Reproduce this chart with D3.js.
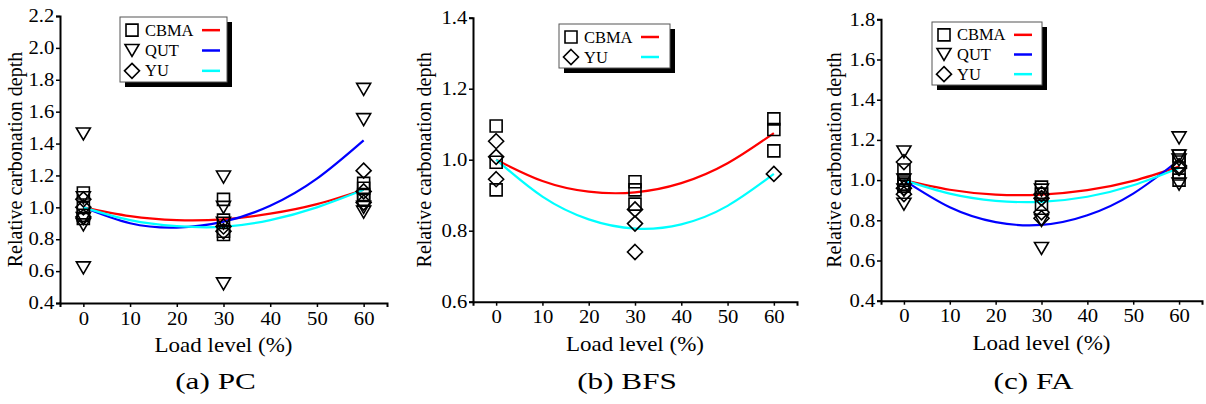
<!DOCTYPE html>
<html>
<head>
<meta charset="utf-8">
<script src="https://cdn.jsdelivr.net/npm/d3@7"></script>
<style>
  body { margin: 0; background: #fff; }
  text { font-family: "Liberation Serif", "Times New Roman", serif; fill: #000; }
</style>
</head>
<body>
<svg id="chart" width="1206" height="404"></svg>
<script>
// x positions of fitted curve samples
const curveX = [0, 10, 20, 30, 40, 50, 60];
const xTicks = [0, 10, 20, 30, 40, 50, 60];

// (a) PC
const pcCBMA = [[0,1.09],[0,1.0],[0,0.95],[0,0.93],[30,1.05],[30,0.92],[30,0.85],[30,0.83],[60,1.15],[60,1.12],[60,1.08],[60,1.05]];
const pcQUT = [[0,1.46],[0,1.06],[0,0.93],[0,0.89],[0,0.62],[30,1.19],[30,1.0],[30,0.9],[30,0.52],[60,1.74],[60,1.55],[60,1.0],[60,0.97]];
const pcYU = [[0,1.05],[0,1.0],[0,0.94],[30,0.88],[30,0.85],[60,1.23],[60,1.1],[60,1.03]];
const pcFitCBMA = [1.0, 0.945, 0.92, 0.925, 0.96, 1.02, 1.11];
const pcFitQUT = [1.0, 0.9, 0.873, 0.91, 1.01, 1.18, 1.42];
const pcFitYU = [1.0, 0.92, 0.882, 0.878, 0.92, 1.0, 1.11];
const pcYTicks = [0.4, 0.6, 0.8, 1.0, 1.2, 1.4, 1.6, 1.8, 2.0, 2.2];

// (b) BFS
const bfsCBMA = [[0,1.095],[0,0.993],[0,0.915],[30,0.938],[30,0.915],[30,0.875],[60,1.115],[60,1.085],[60,1.025]];
const bfsYU = [[0,1.052],[0,1.008],[0,0.945],[30,0.86],[30,0.82],[30,0.74],[60,0.96]];
const bfsFitCBMA = [1.0, 0.94, 0.91, 0.908, 0.934, 0.99, 1.075];
const bfsFitYU = [1.0, 0.896, 0.832, 0.806, 0.818, 0.87, 0.96];
const bfsYTicks = [0.6, 0.8, 1.0, 1.2, 1.4];

// (c) FA
const faCBMA = [[0,1.05],[0,1.0],[0,0.98],[0,0.97],[30,0.965],[30,0.93],[30,0.88],[60,1.12],[60,1.09],[60,1.03],[60,1.0]];
const faQUT = [[0,1.14],[0,1.0],[0,0.95],[0,0.88],[30,0.95],[30,0.8],[30,0.66],[60,1.21],[60,1.12],[60,1.1],[60,0.98]];
const faYU = [[0,1.09],[0,0.96],[0,0.93],[30,0.93],[30,0.91],[30,0.84],[30,0.81],[60,1.07],[60,1.06]];
const faFitCBMA = [1.0, 0.952, 0.928, 0.928, 0.95, 0.996, 1.067];
const faFitQUT = [1.0, 0.865, 0.791, 0.777, 0.825, 0.933, 1.10];
const faFitYU = [1.0, 0.933, 0.897, 0.892, 0.917, 0.974, 1.06];
const faYTicks = [0.4, 0.6, 0.8, 1.0, 1.2, 1.4, 1.6, 1.8];

const colors = { CBMA: "#ff0000", QUT: "#0000ff", YU: "#00ffff" };

// text in the source figure is a little wider than the font
const stretch = 1.15;

// marker shapes (hollow)
function markerPath(kind) {
  if (kind === "CBMA") return "M-6,-6H6V6H-6Z";
  if (kind === "QUT") return "M-7,-6H7L0,6Z";
  return "M0,-7.5L7.5,0L0,7.5L-7.5,0Z";
}

const panels = [
  { caption: "(a) PC", left: 60, right: 387, top: 16, bottom: 303, yDomain: [0.4, 2.2], yTicks: pcYTicks, titleOff: 38,
    series: [["CBMA", pcCBMA, pcFitCBMA], ["QUT", pcQUT, pcFitQUT], ["YU", pcYU, pcFitYU]],
    legend: { x: 120, y: 17, w: 107, h: 65 } },
  { caption: "(b) BFS", left: 473, right: 797, top: 17.7, bottom: 301.7, yDomain: [0.6, 1.4], yTicks: bfsYTicks, titleOff: 42,
    series: [["CBMA", bfsCBMA, bfsFitCBMA], ["YU", bfsYU, bfsFitYU]],
    legend: { x: 559, y: 24, w: 111, h: 44 } },
  { caption: "(c) FA", left: 881, right: 1202, top: 19.3, bottom: 300.7, yDomain: [0.4, 1.8], yTicks: faYTicks, titleOff: 40,
    series: [["CBMA", faCBMA, faFitCBMA], ["QUT", faQUT, faFitQUT], ["YU", faYU, faFitYU]],
    legend: { x: 932, y: 22, w: 110, h: 63 } }
];

const svg = d3.select("#chart");

panels.forEach(p => {
  const x = d3.scaleLinear().domain([-5, 65]).range([p.left, p.right]);
  const y = d3.scaleLinear().domain(p.yDomain).range([p.bottom, p.top]);
  const g = svg.append("g");

  // axes
  const yAxis = g.append("g")
    .attr("transform", `translate(${p.left},0)`)
    .call(d3.axisLeft(y).tickValues(p.yTicks).tickFormat(d3.format(".1f")).tickSizeOuter(0).tickSize(4));
  const xAxis = g.append("g")
    .attr("transform", `translate(0,${p.bottom})`)
    .call(d3.axisBottom(x).tickValues(xTicks).tickSizeOuter(0).tickSize(4));
  [yAxis, xAxis].forEach(a => {
    a.select(".domain").attr("stroke", "#000").attr("stroke-width", 2);
    a.selectAll(".tick line").attr("stroke", "#000").attr("stroke-width", 1.5);
    a.selectAll(".tick text").attr("font-size", 18).attr("fill", "#000")
      .attr("transform", `scale(${stretch},1)`);
  });
  yAxis.selectAll(".tick text").attr("x", -5);
  xAxis.selectAll(".tick text").attr("y", 9);

  // axis titles
  g.append("text")
    .attr("transform", `translate(${p.left - p.titleOff},${(p.top + p.bottom) / 2}) rotate(-90)`)
    .attr("text-anchor", "middle")
    .attr("font-size", 20)
    .text("Relative carbonation depth");
  g.append("text")
    .attr("transform", `translate(${(p.left + p.right) / 2},${p.bottom + 49}) scale(${stretch},1)`)
    .attr("text-anchor", "middle")
    .attr("font-size", 20)
    .text("Load level (%)");
  g.append("text")
    .attr("transform", `translate(${(p.left + p.right) / 2 - 8},${389}) scale(1.3,1)`)
    .attr("text-anchor", "middle")
    .attr("font-size", 24)
    .text(p.caption);

  // fitted curves
  const line = d3.line().x((d, i) => x(curveX[i])).y(d => y(d)).curve(d3.curveNatural);
  p.series.forEach(([name, pts, fit]) => {
    g.append("path")
      .attr("d", line(fit))
      .attr("fill", "none")
      .attr("stroke", colors[name])
      .attr("stroke-width", 2.2);
  });

  // markers
  p.series.forEach(([name, pts]) => {
    g.append("g").selectAll("path")
      .data(pts)
      .join("path")
      .attr("transform", d => `translate(${x(d[0])},${y(d[1])})`)
      .attr("d", markerPath(name))
      .attr("fill", "none")
      .attr("stroke", "#000")
      .attr("stroke-width", 1.6);
  });

  // legend
  const L = p.legend;
  const lg = g.append("g");
  lg.append("rect").attr("x", L.x + 5).attr("y", L.y + 5).attr("width", L.w).attr("height", L.h).attr("fill", "#000");
  lg.append("rect").attr("x", L.x).attr("y", L.y).attr("width", L.w).attr("height", L.h)
    .attr("fill", "#fff").attr("stroke", "#555").attr("stroke-width", 1);
  const rowH = (L.h - 4) / p.series.length;
  p.series.forEach(([name], i) => {
    const cy = L.y + 3 + rowH * (i + 0.5);
    lg.append("path").attr("transform", `translate(${L.x + 12},${cy})`)
      .attr("d", markerPath(name)).attr("fill", "none").attr("stroke", "#000").attr("stroke-width", 1.6);
    lg.append("text").attr("transform", `translate(${L.x + 25},${cy + 5.5}) scale(1.03,1)`)
      .attr("font-size", 16).text(name);
    lg.append("line").attr("x1", L.x + 82).attr("x2", L.x + 100).attr("y1", cy).attr("y2", cy)
      .attr("stroke", colors[name]).attr("stroke-width", 2.5);
  });
});
</script>
</body>
</html>
